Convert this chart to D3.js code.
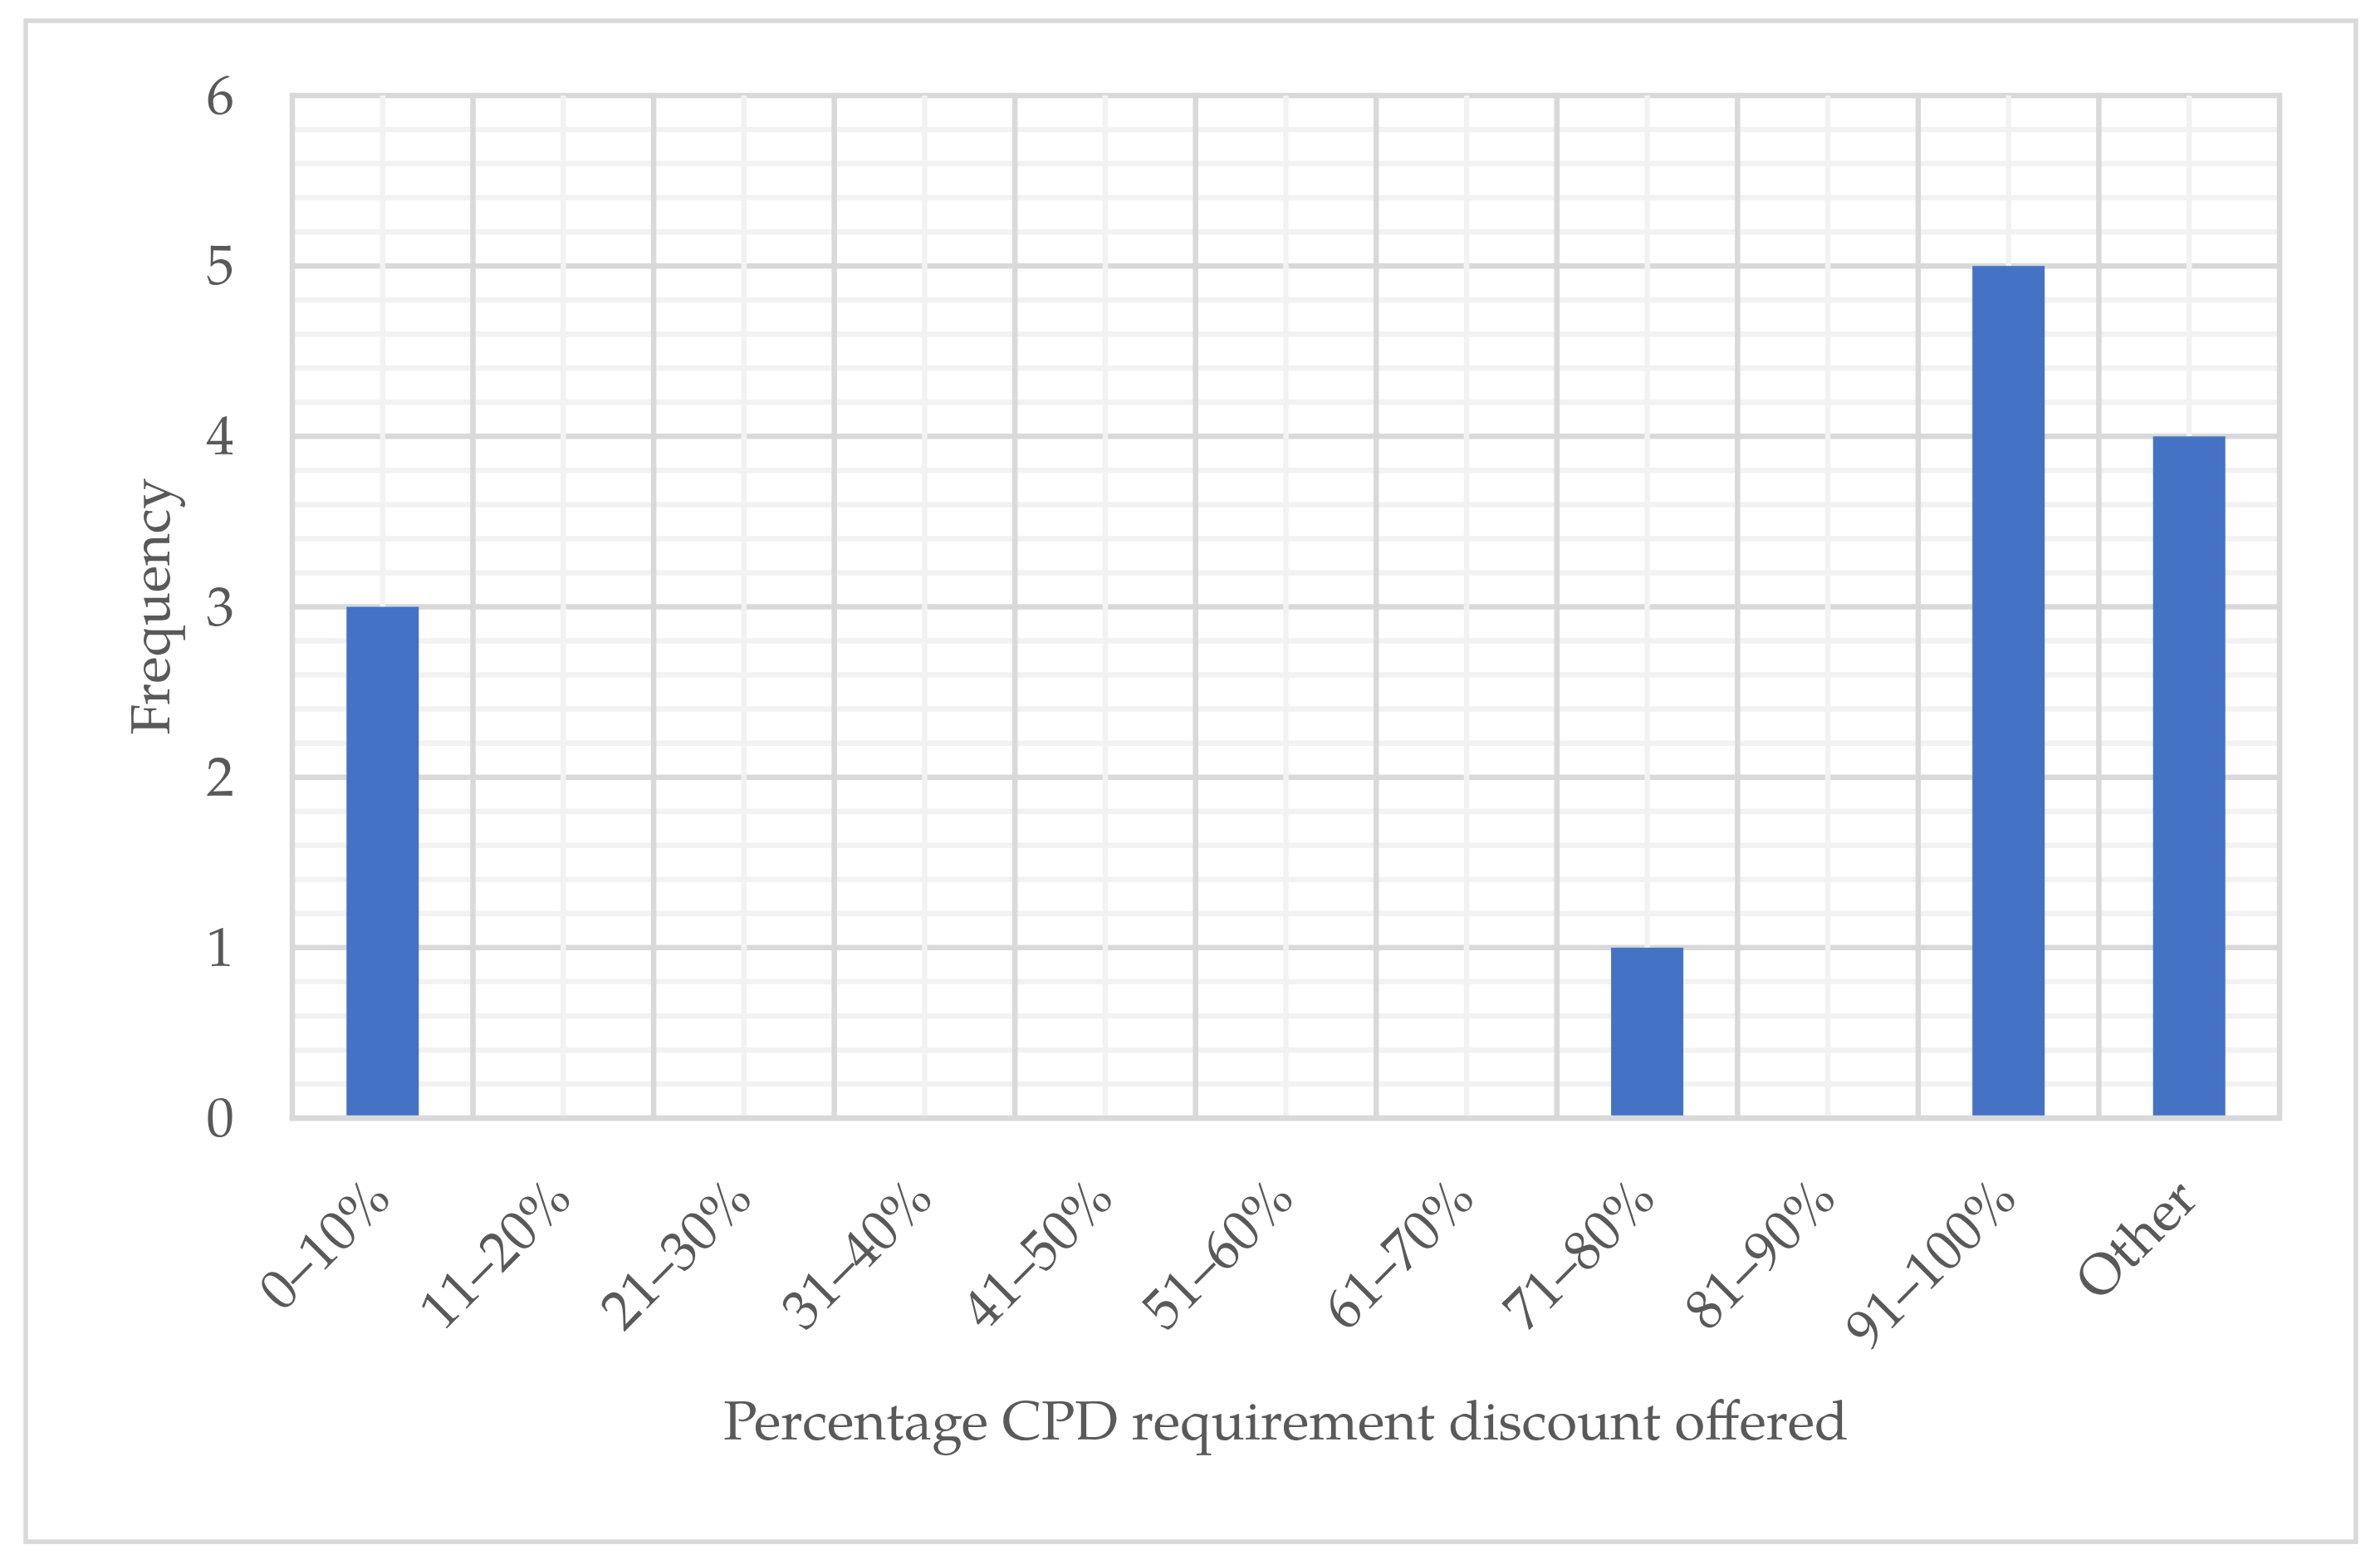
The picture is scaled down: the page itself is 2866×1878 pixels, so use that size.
<!DOCTYPE html>
<html>
<head>
<meta charset="utf-8">
<script src="https://cdn.jsdelivr.net/npm/d3@7"></script>
<style>
  body { margin: 0; background: #fff; }
  svg text { font-family: "Palatino Linotype", Palatino, "Book Antiqua", "TeX Gyre Pagella", P052, "URW Palladio L", "Liberation Serif", "DejaVu Serif", serif; fill: #595959; }
</style>
</head>
<body>
<svg id="chart"></svg>
<script>
// data
const categories = ["0–10%", "11–20%", "21–30%", "31–40%", "41–50%", "51–60%", "61–70%", "71–80%", "81–90%", "91–100%", "Other"];
const frequency = [3, 0, 0, 0, 0, 0, 0, 1, 0, 5, 4];
const yTicks = [0, 1, 2, 3, 4, 5, 6];
const xTitle = "Percentage CPD requirement discount offered";
const yTitle = "Frequency";

const W = 2866, H = 1878;
const plot = {left: 352, right: 2745, top: 115, bottom: 1346};
const majorColor = "#d9d9d9", minorColor = "#f2f2f2", lineW = 6.5;
const barColor = "#4472c4";
let fontSize = 64;

const svg = d3.select("#chart").attr("width", W).attr("height", H);
svg.append("rect").attr("width", W).attr("height", H).attr("fill", "#fff");

// outer frame
svg.append("rect")
    .attr("x", 31).attr("y", 25)
    .attr("width", 2837 - 31).attr("height", 1856 - 25)
    .attr("fill", "none").attr("stroke", majorColor).attr("stroke-width", 5.5);

const xScale = d3.scaleBand()
    .domain(categories)
    .range([plot.left, plot.right])
    .paddingInner(0.6)
    .paddingOuter(0.3);
const step = xScale.step();
const yScale = d3.scaleLinear()
    .domain([0, d3.max(yTicks)])
    .range([plot.bottom, plot.top]);

const center = d => xScale(d) + xScale.bandwidth() / 2;
const boundary = i => plot.left + step * i;

const grid = svg.append("g");
// minor horizontal
grid.selectAll(".hminor")
    .data(yScale.ticks(30).filter(t => Math.abs(t - Math.round(t)) > 1e-6))
    .enter().append("line")
    .attr("x1", plot.left).attr("x2", plot.right)
    .attr("y1", d => yScale(d)).attr("y2", d => yScale(d))
    .attr("stroke", minorColor).attr("stroke-width", lineW);
// major horizontal
grid.selectAll(".hmajor")
    .data(yTicks)
    .enter().append("line")
    .attr("x1", plot.left).attr("x2", plot.right)
    .attr("y1", d => yScale(d)).attr("y2", d => yScale(d))
    .attr("stroke", majorColor).attr("stroke-width", lineW);
// minor vertical, at category centres
grid.selectAll(".vminor")
    .data(categories)
    .enter().append("line")
    .attr("x1", d => center(d)).attr("x2", d => center(d))
    .attr("y1", plot.top).attr("y2", plot.bottom)
    .attr("stroke", minorColor).attr("stroke-width", lineW);
// major vertical, at category boundaries
grid.selectAll(".vmajor")
    .data(d3.range(1, categories.length + 1))
    .enter().append("line")
    .attr("x1", d => boundary(d)).attr("x2", d => boundary(d))
    .attr("y1", plot.top - lineW / 2).attr("y2", plot.bottom)
    .attr("stroke", majorColor).attr("stroke-width", lineW);

// bars
svg.append("g").selectAll("rect")
    .data(categories.map((c, i) => ({cat: c, value: frequency[i]})))
    .enter().append("rect")
    .attr("x", d => xScale(d.cat))
    .attr("width", xScale.bandwidth())
    .attr("y", d => yScale(d.value))
    .attr("height", d => yScale(0) - yScale(d.value))
    .attr("fill", barColor);

// axis lines
svg.append("line")
    .attr("x1", plot.left).attr("x2", plot.left)
    .attr("y1", plot.top - lineW / 2).attr("y2", plot.bottom + lineW / 2)
    .attr("stroke", majorColor).attr("stroke-width", lineW);
svg.append("line")
    .attr("x1", plot.left - lineW / 2).attr("x2", plot.right + lineW / 2)
    .attr("y1", plot.bottom).attr("y2", plot.bottom)
    .attr("stroke", majorColor).attr("stroke-width", lineW);

// x title, used to fit the font size to the fallback font
const title = svg.append("text")
    .attr("x", (plot.left + plot.right) / 2)
    .attr("y", 1733)
    .attr("text-anchor", "middle")
    .style("font-size", fontSize + "px")
    .text(xTitle);
const measured = title.node().getComputedTextLength();
if (measured > 0) fontSize = fontSize * 1355 / measured;
title.style("font-size", fontSize + "px");

// y title
svg.append("text")
    .attr("transform", `translate(204,730) rotate(-90)`)
    .attr("text-anchor", "middle")
    .style("font-size", fontSize + "px")
    .text(yTitle);

// y tick labels
svg.append("g").selectAll("text")
    .data(yTicks)
    .enter().append("text")
    .attr("x", 282)
    .attr("y", d => yScale(d))
    .attr("dy", "0.33em")
    .attr("text-anchor", "end")
    .style("font-size", fontSize + "px")
    .text(d => d);

// x tick labels, rotated
svg.append("g").selectAll("text")
    .data(categories)
    .enter().append("text")
    .attr("transform", d => `translate(${center(d) + 13},${plot.bottom + 100}) rotate(-45)`)
    .attr("text-anchor", "end")
    .style("font-size", fontSize + "px")
    .text(d => d);
</script>
</body>
</html>
